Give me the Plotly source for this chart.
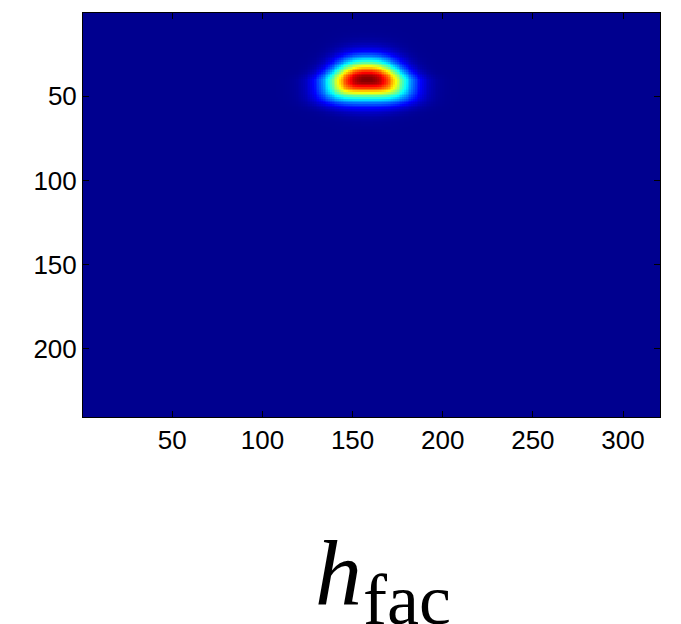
import numpy as np
import plotly.graph_objects as go

# ---- data ----
IMAGE_COLS = 320
IMAGE_ROWS = 240
BLOB_CENTER = [158, 40]          # column, row of the peak
BLOB_SPREAD = [21.5, 11.4]       # horizontal / vertical spread (pixels)
BLOB_FALLOFF = [2.4, 1.95]       # falloff exponent along rows / columns
TOP_NARROWING = [0.25, 10.0]     # dome: contours narrow a little above the peak
LOWER_CORNER = [3.2, 1.6, 9.0]   # flattish bottom near the core, pointed glow further down
X_TICKS = [50, 100, 150, 200, 250, 300]
Y_TICKS = [50, 100, 150, 200]
LABEL_MAIN = "<i>h</i>"
LABEL_SUB = "fac"

cols = np.arange(1, IMAGE_COLS + 1)
rows = np.arange(1, IMAGE_ROWS + 1)
X, Y = np.meshgrid(cols, rows)
dx = (X - BLOB_CENTER[0]).astype(float)
dy = (Y - BLOB_CENTER[1]).astype(float)
w = np.where(dy < 0, 1 + TOP_NARROWING[0] * np.tanh(dy / TOP_NARROWING[1]), 1.0)
m_low = LOWER_CORNER[1] + (LOWER_CORNER[0] - LOWER_CORNER[1]) * np.exp(
    -(np.maximum(dy - LOWER_CORNER[2], 0) / LOWER_CORNER[2]) ** 2)
m = np.where(dy < 0, 2.0, m_low)
ax = np.abs(dx / (BLOB_SPREAD[0] * w)) ** (BLOB_FALLOFF[0] / 2)
ay = np.abs(dy / BLOB_SPREAD[1]) ** (BLOB_FALLOFF[1] / 2)
R = (ax ** m + ay ** m) ** (1.0 / m)
Z = np.round(np.exp(-R ** 2), 4)

jet = [
    [0.0, "rgb(0,0,143)"],
    [7 / 63, "rgb(0,0,255)"],
    [23 / 63, "rgb(0,255,255)"],
    [39 / 63, "rgb(255,255,0)"],
    [55 / 63, "rgb(255,0,0)"],
    [1.0, "rgb(128,0,0)"],
]

fig = go.Figure(
    go.Heatmap(
        z=Z, x=cols, y=rows, colorscale=jet, zmin=0, zmax=float(Z.max()),
        showscale=False, zsmooth=False, hoverinfo="skip",
    )
)

axis_common = dict(
    showline=True, linecolor="black", linewidth=1, mirror="allticks",
    ticks="inside", ticklen=6, tickcolor="black", tickwidth=1,
    showgrid=False, zeroline=False,
    tickfont=dict(family="Liberation Sans, Arial, sans-serif", size=26, color="black"),
)
fig.update_xaxes(range=[0.5, IMAGE_COLS + 0.5], tickvals=X_TICKS, **axis_common)
fig.update_yaxes(range=[IMAGE_ROWS + 0.5, 0.5], tickvals=Y_TICKS, ticklabelstandoff=0, **axis_common)

fig.add_annotation(
    text=LABEL_MAIN, xref="paper", yref="paper", x=0.443, y=-0.385,
    xanchor="center", yanchor="middle", showarrow=False,
    font=dict(family="Liberation Serif, DejaVu Serif, serif", size=94, color="black"),
)
fig.add_annotation(
    text=LABEL_SUB, xref="paper", yref="paper", x=0.562, y=-0.453,
    xanchor="center", yanchor="middle", showarrow=False,
    font=dict(family="Liberation Serif, DejaVu Serif, serif", size=72, color="black"),
)

# page body has an 8px default margin, so the figure is sized to fit inside the window
fig.update_layout(
    width=673, height=616,
    margin=dict(l=75, r=21, t=5, b=207, pad=0),
    paper_bgcolor="white", plot_bgcolor="white",
)

fig.write_html("out.html")
